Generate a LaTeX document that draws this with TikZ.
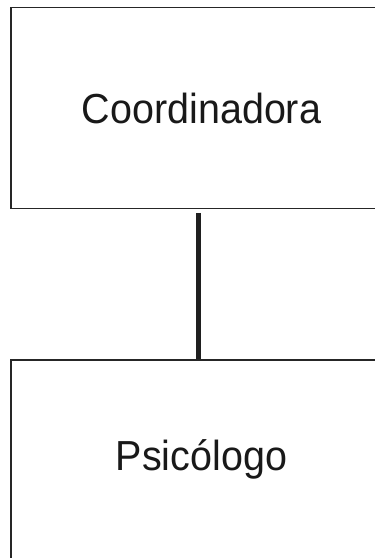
\documentclass[tikz,border=0pt]{standalone}
\usepackage{fontspec}
\setmainfont{Liberation Sans}
\newfontfamily\boxfont[FakeStretch=0.94]{Liberation Sans}
\begin{document}
\begin{tikzpicture}[x=1pt,y=1pt,
  box/.style={draw=black!85, line width=1.2pt, rectangle, inner sep=0pt,
    font=\boxfont\fontsize{42}{50}\selectfont, text=black!90},
  conn/.style={draw=black!88, line width=5pt}]
\useasboundingbox (0,0) rectangle (375,558);
\clip (0,0) rectangle (375,558);
\fill[white] (0,0) rectangle (375,558);
\node[box, minimum width=381pt, minimum height=200.5pt] (top) at (201.5,450) {Coordinadora};
\node[box, minimum width=381pt, minimum height=199pt] (bot) at (201.5,98.5) {Psicólogo};
\draw[conn] ([xshift=-3pt,yshift=-4pt]top.south) -- ([xshift=-3pt]bot.north);
\end{tikzpicture}
\end{document}
